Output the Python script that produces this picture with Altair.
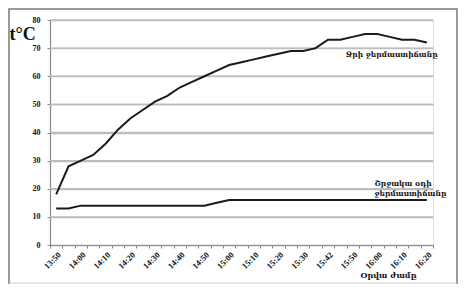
import altair as alt
import pandas as pd

times = ["13:50", "13:55", "14:00", "14:05", "14:10", "14:15", "14:20", "14:25",
         "14:30", "14:35", "14:40", "14:45", "14:50", "14:55", "15:00", "15:05",
         "15:10", "15:15", "15:20", "15:25", "15:30", "15:35", "15:42", "15:45",
         "15:50", "15:55", "16:00", "16:05", "16:10", "16:15", "16:20"]
water = [18, 28, 30, 32, 36, 41, 45, 48, 51, 53, 56, 58, 60, 62, 64, 65,
         66, 67, 68, 69, 69, 70, 73, 73, 74, 75, 75, 74, 73, 73, 72]
air = [13, 13, 14, 14, 14, 14, 14, 14, 14, 14, 14, 14, 14, 15, 16, 16,
       16, 16, 16, 16, 16, 16, 16, 16, 16, 16, 16, 16, 16, 16, 16]
y_ticks = [0, 10, 20, 30, 40, 50, 60, 70, 80]
series_names = ["Ջրի ջերմաստիճանը", "Շրջակա օդի\nջերմաստիճանը"]

rows = []
for t, w, a in zip(times, water, air):
    rows.append({"time": t, "temp": w, "series": "water"})
    rows.append({"time": t, "temp": a, "series": "air"})
df = pd.DataFrame(rows)

SERIF = "Liberation Serif"
ARM = "DejaVu Serif"

xscale = alt.Scale(type="band", paddingInner=0, paddingOuter=0)
yscale = alt.Scale(domain=[0, 80], nice=False)
xaxis = alt.Axis(title="Օրվա ժամը", labelAngle=-45, tickBand="extent",
                 labelExpr="slice(datum.label, -1) == '5' ? '' : datum.label",
                 labelFont=SERIF, labelFontWeight="bold", labelFontSize=8.5,
                 labelColor="#111", tickSize=3, tickColor="#888",
                 domainColor="#888", domainWidth=1.2, grid=False, labelPadding=2,
                 labelOverlap=False,
                 titleFont=ARM, titleFontSize=8, titleFontWeight="bold",
                 titleX=338, titleY=26, titleColor="#111")
yaxis = alt.Axis(values=y_ticks, labelOverlap=False, title="t°C",
                 titleAngle=0, titleX=-41, titleY=23, titleAlign="left",
                 titleFont=SERIF, titleFontSize=18, titleFontWeight="bold",
                 titleColor="#111",
                 labelFont=SERIF, labelFontWeight="bold", labelFontSize=8,
                 labelColor="#111", tickSize=3, tickColor="#888",
                 domainColor="#888", domainWidth=1.2, grid=True,
                 gridColor="#bdbdbd", gridWidth=1.5, labelPadding=7)

def xe():
    return alt.X("time:N", sort=times, scale=xscale, axis=xaxis)

def ye():
    return alt.Y("temp:Q", scale=yscale, axis=yaxis)

grid_df = pd.DataFrame({"temp": y_ticks[1:]})
grid = alt.Chart(grid_df).mark_rule(color="#bdbdbd", strokeWidth=1.5).encode(y=ye())

lines = alt.Chart(df).mark_line(color="#1a1a1a", strokeWidth=2).encode(
    x=xe(), y=ye(), detail="series:N")

ann = pd.DataFrame({"time": ["16:05", "16:00"], "temp": [67.5, 21.8],
                    "label": series_names})
ann_w = alt.Chart(ann.iloc[[0]]).mark_text(
    font=ARM, fontSize=7.5, fontWeight="bold", color="#111", dx=2, align="center",
    baseline="middle").encode(x=xe(), y=ye(), text="label:N")
ann_a = alt.Chart(ann.iloc[[1]]).mark_text(
    font=ARM, fontSize=7.5, fontWeight="bold", color="#111", dx=-3, align="left",
    baseline="middle", lineBreak="\n", lineHeight=10).encode(
    x=xe(), y=ye(), text="label:N")

frame_df = pd.DataFrame({"k": [0]})
frame = alt.Chart(frame_df).mark_rect(filled=False, stroke="#7a7a7a", strokeWidth=1.5).encode(
    x=alt.value(-41), x2=alt.value(407), y=alt.value(-11), y2=alt.value(300))
bottom_rule = alt.Chart(frame_df).mark_rule(color="#c8c8c8", strokeWidth=1).encode(
    x=alt.value(-41), x2=alt.value(407), y=alt.value(263))

chart = alt.layer(grid, lines, ann_w, ann_a, frame, bottom_rule).properties(
    width=383, height=225,
    autosize=alt.AutoSizeParams(type="none"),
    padding={"left": 42, "top": 12, "right": 28, "bottom": 39},
).configure_view(stroke="transparent").configure(background="white")

chart.save("out.html", embed_options={"renderer": "svg", "actions": False})
